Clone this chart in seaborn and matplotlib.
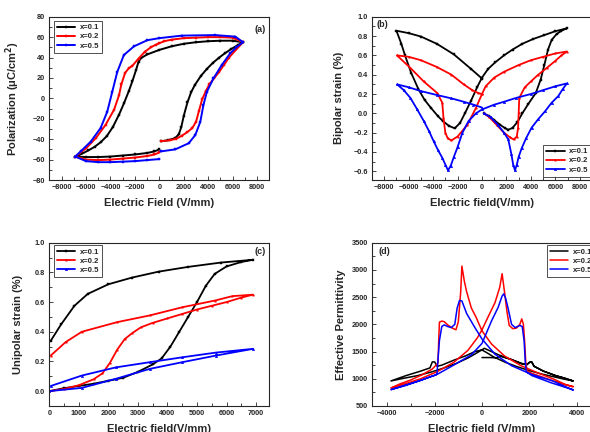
import numpy as np
import pandas as pd
import matplotlib
matplotlib.use("Agg")
import matplotlib.pyplot as plt
import seaborn as sns
from matplotlib.ticker import MultipleLocator

# ------------------------------------------------------
# data
# ------------------------------------------------------

labels = ["x=0.1", "x=0.2", "x=0.5"]
colors = ["#000000", "#ff0000", "#0000ff"]

# (a) P-E loops : rising branch -> upper branch -> lower branch
a_E_01 = [150, 700, 1300, 1600, 1800, 2000, 2300, 2600, 2900, 3400, 3900, 4400, 4900, 5400, 5900, 6400, 6850,
          6000, 5000, 4000, 3000, 2000, 1000, 0, -1000, -1500, -1700, -1900, -2200, -2500, -2900, -3300, -3800,
          -4300, -4800, -5300, -5800, -6300, -6880,
          -6000, -5000, -4000, -3000, -2000, -1000, -400, 0]
a_P_01 = [-42, -41, -39, -35, -28, -17, -4, 6, 13, 22, 29, 35, 40, 44.5, 48.5, 52, 55,
          56.5, 56.5, 56, 55, 53.5, 51, 47.5, 43, 39.5, 36, 28, 17, 7, -5, -16, -28,
          -37, -43, -47.5, -51, -54, -57,
          -57.5, -57.5, -57, -56, -55, -53.5, -52, -50]

a_E_02 = [150, 900, 1400, 1850, 2300, 2700, 3000, 3250, 3500, 3800, 4100, 4500, 4900, 5300, 5700, 6300, 6850,
          6000, 5000, 4000, 3000, 2000, 1000, 400, 0, -300, -700, -1200, -1700, -2200, -2500, -2800, -3100,
          -3300, -3700, -4400, -5200, -6000, -6880,
          -6000, -5000, -4000, -3000, -2000, -1000, -400, 0]
a_P_02 = [-42, -41, -39.5, -36.5, -33, -29, -23, -12, -1, 7, 14, 20, 26, 33, 40, 48, 55,
          59.5, 60, 60, 59.5, 59, 57.5, 56, 54, 52.5, 50, 45.5, 39, 32, 29.5, 25, 14,
          3, -11, -26, -39, -49, -57,
          -60, -60.5, -60, -59, -58, -56.5, -55, -53]

a_E_05 = [100, 1300, 2400, 2940, 3350, 3610, 3890, 4430, 5110, 5790, 6300, 6850,
          6220, 4570, 1850, 0, -980, -2070, -2900, -3440, -3850, -4260, -4800, -5620, -6440, -6880,
          -6000, -5000, -4000, -3000, -2000, -1000, 0]
a_P_05 = [-52, -50, -44, -36, -23, -6.5, 6.5, 19.6, 32.7, 44, 50, 55,
          60.5, 62, 61.5, 59, 57, 51, 42.5, 26, 6.5, -13, -29, -42.5, -52, -57,
          -61.5, -62.5, -62.5, -62, -61.5, -60.5, -59.5]

# (b) bipolar strain butterflies
b_E_01 = [150, 600, 1000, 1500, 1900, 2150, 2500, 2900, 3300, 3800, 4400, 4800, 5100, 5400, 5700, 6100, 6500, 6950,
          6000, 5100, 4200, 3300, 2500, 1800, 1100, 500, 0,
          -400, -900, -1400, -1800, -2230,
          -2700, -3200, -3600, -4200, -4700, -5200, -5800, -6300, -6600, -7000,
          -6000, -5000, -3700, -2300, -900, 0]
b_S_01 = [0.0, -0.03, -0.07, -0.12, -0.155, -0.17, -0.15, -0.09, 0.0, 0.1, 0.21, 0.35, 0.5, 0.66, 0.76, 0.82, 0.855, 0.88,
          0.85, 0.81, 0.77, 0.72, 0.66, 0.6, 0.53, 0.46, 0.37,
          0.27, 0.13, 0.0, -0.1, -0.155,
          -0.13, -0.08, -0.03, 0.06, 0.14, 0.25, 0.42, 0.6, 0.72, 0.855,
          0.83, 0.795, 0.72, 0.61, 0.46, 0.36]

b_E_02 = [150, 600, 1200, 1800, 2300, 2590, 2850, 2950, 3000, 3050, 3500, 4000, 4600, 5300, 5970, 6500, 6950,
          6000, 5000, 4000, 3000, 1800, 1000, 300, 0,
          -500, -1200, -2000, -2500,
          -2800, -3000, -3150, -3250, -3660, -4770, -5860, -6960,
          -6000, -5000, -3700, -2500, -1500, -800, -300, 0]
b_S_02 = [0.0, -0.04, -0.12, -0.2, -0.25, -0.27, -0.24, -0.15, 0.0, 0.16, 0.27, 0.33, 0.4, 0.47, 0.54, 0.6, 0.64,
          0.62, 0.585, 0.55, 0.5, 0.43, 0.37, 0.28, 0.2,
          0.055, -0.12, -0.24, -0.28,
          -0.26, -0.2, -0.05, 0.11, 0.21, 0.33, 0.47, 0.6,
          0.585, 0.55, 0.48, 0.4, 0.3, 0.24, 0.21, 0.2]

b_E_05 = [150, 700, 1300, 1800, 2150, 2400, 2550, 2700, 2850, 3000, 3250, 3600, 4050, 4600, 5150, 5700, 6250, 6600, 6950,
          6000, 5000, 4000, 2800, 1800, 1000, 0,
          -500, -1100, -1600, -2000, -2300, -2550, -2780,
          -3000, -3250, -3600, -3950, -4350, -4760, -5300, -5860, -6400, -6950,
          -6000, -5000, -3700, -2500, -1500, -700, 0]
b_S_05 = [0.0, -0.04, -0.12, -0.2, -0.27, -0.42, -0.53, -0.59, -0.53, -0.45, -0.36, -0.26, -0.15, -0.06, 0.02, 0.11, 0.18, 0.25, 0.31,
          0.28, 0.24, 0.2, 0.16, 0.12, 0.09, 0.04,
          0.0, -0.08, -0.2, -0.35, -0.45, -0.54, -0.59,
          -0.53, -0.46, -0.38, -0.29, -0.18, -0.08, 0.04, 0.16, 0.24, 0.3,
          0.27, 0.23, 0.19, 0.155, 0.12, 0.09, 0.06]

# (c) unipolar strain : rising branch -> falling branch
c_E_01 = [0, 500, 1000, 1500, 2000, 2500, 3000, 3500, 3800, 4100, 4400, 4700, 5000, 5300, 5600, 6000, 6500, 6900,
          5800, 4700, 3700, 2800, 2000, 1300, 850, 400, 50]
c_S_01 = [0.0, 0.02, 0.035, 0.05, 0.07, 0.09, 0.13, 0.18, 0.22, 0.3, 0.4, 0.5, 0.6, 0.71, 0.79, 0.84, 0.87, 0.885,
          0.866, 0.837, 0.805, 0.765, 0.72, 0.655, 0.575, 0.45, 0.34]

c_E_02 = [0, 500, 1000, 1500, 1800, 2050, 2300, 2550, 2800, 3100, 3500, 4000, 4500, 5000, 5500, 6000, 6500, 6900,
          6200, 5600, 4500, 3400, 2300, 1100, 550, 50]
c_S_02 = [0.0, 0.015, 0.04, 0.08, 0.12, 0.19, 0.28, 0.35, 0.39, 0.43, 0.46, 0.49, 0.52, 0.55, 0.575, 0.6, 0.63, 0.65,
          0.64, 0.61, 0.565, 0.51, 0.465, 0.4, 0.33, 0.24]

c_E_05 = [0, 1100, 2250, 3400, 4500, 5650, 6900, 5650, 4500, 3400, 2250, 1100, 50]
c_S_05 = [0.0, 0.022, 0.083, 0.15, 0.195, 0.24, 0.285, 0.26, 0.228, 0.195, 0.16, 0.105, 0.035]

# (d) effective permittivity : (start) -> field down -> field up
d_E_01 = [0, 350, 600, 800,
          1200, 1700, 1900, 2000, 2100, 2200, 2600, 3100, 3500, 3850,
          3400, 3000, 2500, 2000, 1500, 1000, 500, 200, 0, -300, -700, -1200, -1700, -1900, -2000, -2100, -2200,
          -2600, -3200, -3850,
          -3300, -2700, -2100, -1600, -1100, -600, -200, 100, 300, 700, 1200, 1700, 1900, 2000, 2100, 2200,
          2600, 3100, 3500, 3850]
d_e_01 = [1390, 1390, 1385, 1410,
          1360, 1270, 1260, 1300, 1310, 1230, 1140, 1060, 1010, 960,
          1000, 1040, 1090, 1150, 1220, 1300, 1400, 1480, 1530, 1500, 1420, 1340, 1250, 1230, 1310, 1310, 1200,
          1140, 1060, 960,
          1010, 1060, 1130, 1200, 1280, 1380, 1480, 1560, 1520, 1440, 1360, 1280, 1260, 1300, 1310, 1230,
          1140, 1060, 1010, 960]

d_E_02 = [3850, 3500, 3050, 2350, 1650, 950, 400, 0, -250, -450, -650, -750, -850, -900, -1000, -1100, -1250,
          -1450, -1600, -1700, -1800, -1830, -1860, -1900, -2100, -2500, -3000, -3500, -3850,
          -3300, -2600, -1900, -1200, -600, -200, 0, 250, 550, 750, 850, 950, 1050, 1150, 1300, 1450, 1600,
          1680, 1750, 1800, 1850, 1900, 2100, 2500, 3000, 3400, 3850]
d_e_02 = [850, 900, 990, 1110, 1240, 1420, 1640, 1880, 2130, 2300, 2600, 2800, 3070, 2600, 2050, 1900, 1930,
          1990, 2050, 2060, 2040, 1700, 1290, 1270, 1180, 1080, 980, 900, 830,
          900, 1000, 1130, 1300, 1520, 1750, 1900, 2130, 2400, 2680, 2930, 2600, 2250, 1980, 1920, 1930, 2000,
          2100, 2000, 1700, 1300, 1150, 1100, 1040, 960, 900, 860]

d_E_05 = [3850, 3000, 2100, 1250, 550, 0, -300, -650, -850, -950, -1050, -1150, -1300, -1450, -1600, -1700,
          -1800, -1870, -1900, -1950, -2100, -2600, -3200, -3850,
          -3200, -2600, -1900, -1200, -450, 0, 400, 680, 850, 920, 1000, 1100, 1250, 1400, 1600, 1700, 1780,
          1830, 1870, 2100, 2900, 3400, 3850]
d_e_05 = [790, 960, 1080, 1240, 1450, 1730, 1940, 2200, 2430, 2440, 2300, 2000, 1940, 1960, 1990, 1960,
          1700, 1300, 1100, 1070, 1050, 970, 890, 800,
          880, 970, 1080, 1250, 1440, 1650, 2060, 2310, 2520, 2560, 2480, 2300, 2000, 1940, 1980, 1960, 1700,
          1300, 1130, 1060, 930, 860, 800]


# ------------------------------------------------------
# figure
# ------------------------------------------------------

sns.set_style("ticks")
plt.rcParams["font.family"] = ["Liberation Sans", "DejaVu Sans"]
plt.rcParams["font.weight"] = "bold"
plt.rcParams["axes.labelweight"] = "bold"
plt.rcParams["axes.linewidth"] = 0.8

fig = plt.figure(figsize=(5.9, 4.32), dpi=100)
ax_a = fig.add_axes([0.0836, 0.5833, 0.3729, 0.378])
ax_b = fig.add_axes([0.6305, 0.5833, 0.3729, 0.378])
ax_c = fig.add_axes([0.0836, 0.0602, 0.3729, 0.378])
ax_d = fig.add_axes([0.6305, 0.0602, 0.3729, 0.378])


def draw(ax, xs, ys, lw, markers, ms):
    for x, y, c, lab, m in zip(xs, ys, colors, labels, markers):
        sns.lineplot(x=x, y=y, ax=ax, sort=False, estimator=None, color=c, label=lab,
                     linewidth=lw, marker=m, markersize=ms,
                     markeredgecolor=c, markeredgewidth=0.3)


def style(ax, xlim, ylim, xmaj, xmin, ymaj, ymin, xlabel, ylabel, ylab_x):
    ax.set_xlim(*xlim)
    ax.set_ylim(*ylim)
    ax.xaxis.set_major_locator(MultipleLocator(xmaj))
    ax.xaxis.set_minor_locator(MultipleLocator(xmin))
    ax.yaxis.set_major_locator(MultipleLocator(ymaj))
    ax.yaxis.set_minor_locator(MultipleLocator(ymin))
    ax.tick_params(which="both", direction="in", top=False, right=False, width=0.6,
                   labelsize=5.3, pad=3)
    ax.tick_params(which="major", length=3)
    ax.tick_params(which="minor", length=2)
    for s in ax.spines.values():
        s.set_visible(True)
        s.set_linewidth(0.8)
    ax.set_xlabel(xlabel, fontsize=8, fontweight="bold")
    ax.set_ylabel(ylabel, fontsize=8, fontweight="bold")
    ax.xaxis.set_label_coords(0.5, -0.11)
    ax.yaxis.set_label_coords(ylab_x, 0.5)


leg_kw = dict(fontsize=5.5, frameon=True, fancybox=False, edgecolor="black",
              borderaxespad=0, handlelength=2.4, labelspacing=0.25, borderpad=0.4,
              handletextpad=0.6)

# (a)
draw(ax_a, [a_E_01, a_E_02, a_E_05], [a_P_01, a_P_02, a_P_05], 1.4, ["s", "s", "s"], 1.8)
style(ax_a, (-9000, 9000), (-80, 80), 2000, 1000, 20, 10,
      "Electric Field (V/mm)", "Polarization (\u03bcC/cm$^{\\mathbf{2}}$)", -0.125)
lg = ax_a.legend(loc="upper left", bbox_to_anchor=(0.02, 0.975), **leg_kw)
lg.get_frame().set_linewidth(0.6)
ax_a.text(0.985, 0.92, "(a)", transform=ax_a.transAxes, ha="right", va="center",
          fontsize=6.5, fontweight="bold")

# (b)
draw(ax_b, [b_E_01, b_E_02, b_E_05], [b_S_01, b_S_02, b_S_05], 1.3, ["s", "*", "^"], 1.8)
style(ax_b, (-9000, 9000), (-0.69, 1.0), 2000, 1000, 0.2, 0.1,
      "Electric field(V/mm)", "Bipolar strain (%)", -0.127)
lg = ax_b.legend(loc="lower right", bbox_to_anchor=(0.998, 0.02), **leg_kw)
lg.get_frame().set_linewidth(0.6)
ax_b.text(0.02, 0.95, "(b)", transform=ax_b.transAxes, ha="left", va="center",
          fontsize=6.5, fontweight="bold")

# (c)
draw(ax_c, [c_E_01, c_E_02, c_E_05], [c_S_01, c_S_02, c_S_05], 1.3, ["s", "*", "^"], 1.8)
style(ax_c, (0, 7450), (-0.1, 1.0), 1000, 500, 0.2, 0.1,
      "Electric field(V/mm)", "Unipolar strain (%)", -0.12)
lg = ax_c.legend(loc="upper left", bbox_to_anchor=(0.02, 0.985), **leg_kw)
lg.get_frame().set_linewidth(0.6)
ax_c.text(0.985, 0.945, "(c)", transform=ax_c.transAxes, ha="right", va="center",
          fontsize=6.5, fontweight="bold")

# (d)
draw(ax_d, [d_E_01, d_E_02, d_E_05], [d_e_01, d_e_02, d_e_05], 1.1, [None, None, None], 0)
style(ax_d, (-4650, 4650), (500, 3500), 2000, 1000, 500, 250,
      "Electric field (V/mm)", "Effective Permittivity", -0.12)
lg = ax_d.legend(loc="upper left", bbox_to_anchor=(0.794, 0.985), **leg_kw)
lg.get_frame().set_linewidth(0.6)
ax_d.text(0.03, 0.945, "(d)", transform=ax_d.transAxes, ha="left", va="center",
          fontsize=6.5, fontweight="bold")

fig.savefig("out.png", dpi=100)
